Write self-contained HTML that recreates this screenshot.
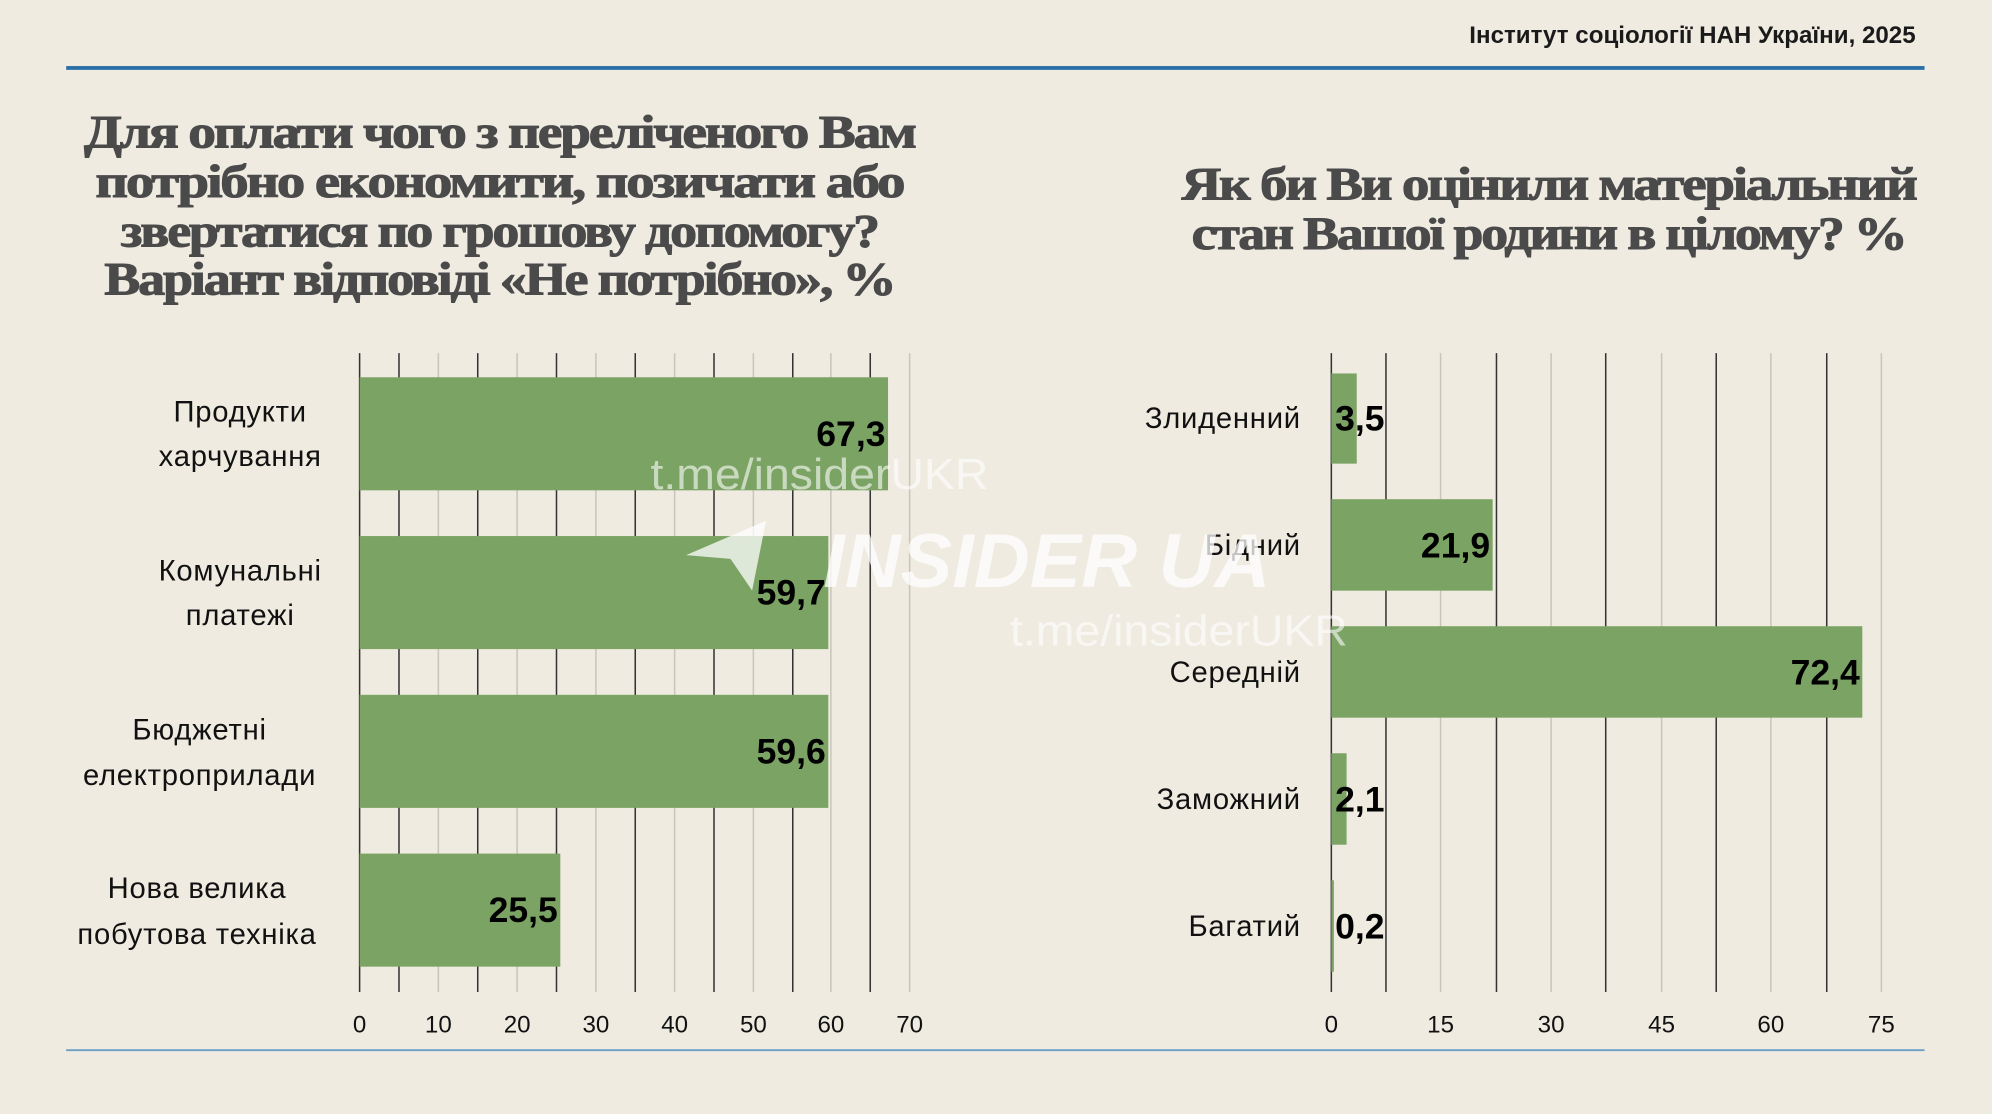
<!DOCTYPE html>
<html><head><meta charset="utf-8"><style>
html,body{margin:0;padding:0;background:#efebe1;}
svg{display:block}
</style></head><body>
<svg width="1992" height="1114" viewBox="0 0 1568 877" xmlns="http://www.w3.org/2000/svg" font-family="Liberation Sans, sans-serif">
<rect width="1568" height="877" fill="#efebe1"/>
<text x="1508" y="34" text-anchor="end" font-size="19" font-weight="bold" fill="#1a1a1a">Інститут соціології НАН України, 2025</text>
<rect x="52" y="52" width="1463" height="3" fill="#2a6fa8"/>
<rect x="52" y="826" width="1463" height="1.5" fill="#6d9fc6"/>
<g font-family="Liberation Serif, serif" font-weight="bold" font-size="37" fill="#4a4a4a" text-anchor="middle" letter-spacing="-1.5" stroke="#4a4a4a" stroke-width="0.8">
<text x="393" y="116" textLength="654" lengthAdjust="spacingAndGlyphs">Для оплати чого з переліченого Вам</text>
<text x="393" y="155" textLength="636" lengthAdjust="spacingAndGlyphs">потрібно економити, позичати або</text>
<text x="393" y="194" textLength="596" lengthAdjust="spacingAndGlyphs">звертатися по грошову допомогу?</text>
<text x="393" y="232" textLength="622" lengthAdjust="spacingAndGlyphs">Варіант відповіді «Не потрібно», %</text>
<text x="1219" y="157" textLength="578" lengthAdjust="spacingAndGlyphs">Як би Ви оцінили матеріальний</text>
<text x="1219" y="196" textLength="562" lengthAdjust="spacingAndGlyphs">стан Вашої родини в цілому? %</text>
</g>
<g stroke-width="1.2">
<line x1="283" y1="278" x2="283" y2="781" stroke="#333"/>
<line x1="314" y1="278" x2="314" y2="781" stroke="#333"/>
<line x1="345" y1="278" x2="345" y2="781" stroke="#c9c5ba"/>
<line x1="376" y1="278" x2="376" y2="781" stroke="#333"/>
<line x1="407" y1="278" x2="407" y2="781" stroke="#c9c5ba"/>
<line x1="438" y1="278" x2="438" y2="781" stroke="#333"/>
<line x1="469" y1="278" x2="469" y2="781" stroke="#c9c5ba"/>
<line x1="500" y1="278" x2="500" y2="781" stroke="#333"/>
<line x1="531" y1="278" x2="531" y2="781" stroke="#c9c5ba"/>
<line x1="562" y1="278" x2="562" y2="781" stroke="#333"/>
<line x1="593" y1="278" x2="593" y2="781" stroke="#c9c5ba"/>
<line x1="624" y1="278" x2="624" y2="781" stroke="#333"/>
<line x1="654" y1="278" x2="654" y2="781" stroke="#c9c5ba"/>
<line x1="685" y1="278" x2="685" y2="781" stroke="#333"/>
<line x1="716" y1="278" x2="716" y2="781" stroke="#c9c5ba"/>
</g>
<g fill="#7ba363">
<rect x="283" y="297" width="416" height="89"/>
<rect x="283" y="422" width="369" height="89"/>
<rect x="283" y="547" width="369" height="89"/>
<rect x="283" y="672" width="158" height="89"/>
</g>
<g font-size="28" font-weight="bold" fill="#000" text-anchor="end">
<text x="697" y="351">67,3</text>
<text x="650" y="476">59,7</text>
<text x="650" y="601">59,6</text>
<text x="439" y="726">25,5</text>
</g>
<g font-size="23" fill="#111" text-anchor="middle" letter-spacing="0.6">
<text x="189" y="332">Продукти</text><text x="189" y="367">харчування</text>
<text x="189" y="457">Комунальні</text><text x="189" y="492">платежі</text>
<text x="157" y="582">Бюджетні</text><text x="157" y="618">електроприлади</text>
<text x="155" y="707">Нова велика</text><text x="155" y="743">побутова техніка</text>
</g>
<g font-size="19" fill="#111" text-anchor="middle">
<text x="283" y="813">0</text><text x="345" y="813">10</text><text x="407" y="813">20</text><text x="469" y="813">30</text><text x="531" y="813">40</text><text x="593" y="813">50</text><text x="654" y="813">60</text><text x="716" y="813">70</text>
</g>
<g stroke-width="1.2">
<line x1="1048" y1="278" x2="1048" y2="781" stroke="#333"/>
<line x1="1091" y1="278" x2="1091" y2="781" stroke="#333"/>
<line x1="1134" y1="278" x2="1134" y2="781" stroke="#c9c5ba"/>
<line x1="1178" y1="278" x2="1178" y2="781" stroke="#333"/>
<line x1="1221" y1="278" x2="1221" y2="781" stroke="#c9c5ba"/>
<line x1="1264" y1="278" x2="1264" y2="781" stroke="#333"/>
<line x1="1308" y1="278" x2="1308" y2="781" stroke="#c9c5ba"/>
<line x1="1351" y1="278" x2="1351" y2="781" stroke="#333"/>
<line x1="1394" y1="278" x2="1394" y2="781" stroke="#c9c5ba"/>
<line x1="1438" y1="278" x2="1438" y2="781" stroke="#333"/>
<line x1="1481" y1="278" x2="1481" y2="781" stroke="#c9c5ba"/>
</g>
<g fill="#7ba363">
<rect x="1048" y="294" width="20" height="71"/>
<rect x="1048" y="393" width="127" height="72"/>
<rect x="1048" y="493" width="418" height="72"/>
<rect x="1048" y="593" width="12" height="72"/>
<rect x="1048" y="693" width="2" height="72"/>
</g>
<g font-size="28" font-weight="bold" fill="#000">
<text x="1051" y="339">3,5</text>
<text x="1173" y="439" text-anchor="end">21,9</text>
<text x="1464" y="539" text-anchor="end">72,4</text>
<text x="1051" y="639">2,1</text>
<text x="1051" y="739">0,2</text>
</g>
<g font-size="23" fill="#111" text-anchor="end" letter-spacing="0.6">
<text x="1024" y="337">Злиденний</text>
<text x="1024" y="437">Бідний</text>
<text x="1024" y="537">Середній</text>
<text x="1024" y="637">Заможний</text>
<text x="1024" y="737">Багатий</text>
</g>
<g font-size="19" fill="#111" text-anchor="middle">
<text x="1048" y="813">0</text><text x="1134" y="813">15</text><text x="1221" y="813">30</text><text x="1308" y="813">45</text><text x="1394" y="813">60</text><text x="1481" y="813">75</text>
</g>
<g fill="#ffffff" opacity="0.75">
<text x="512" y="385" font-size="34" opacity="0.8" textLength="266" lengthAdjust="spacingAndGlyphs">t.me/insiderUKR</text>
<text x="795" y="508" font-size="34" opacity="0.8" textLength="266" lengthAdjust="spacingAndGlyphs">t.me/insiderUKR</text>
<text x="648" y="462" font-size="60" font-weight="bold" font-style="italic" textLength="352" lengthAdjust="spacingAndGlyphs">INSIDER UA</text>
<path d="M540 437 L603 410 L592 465 L575 440 Z"/>
</g>
</svg>
</body></html>
